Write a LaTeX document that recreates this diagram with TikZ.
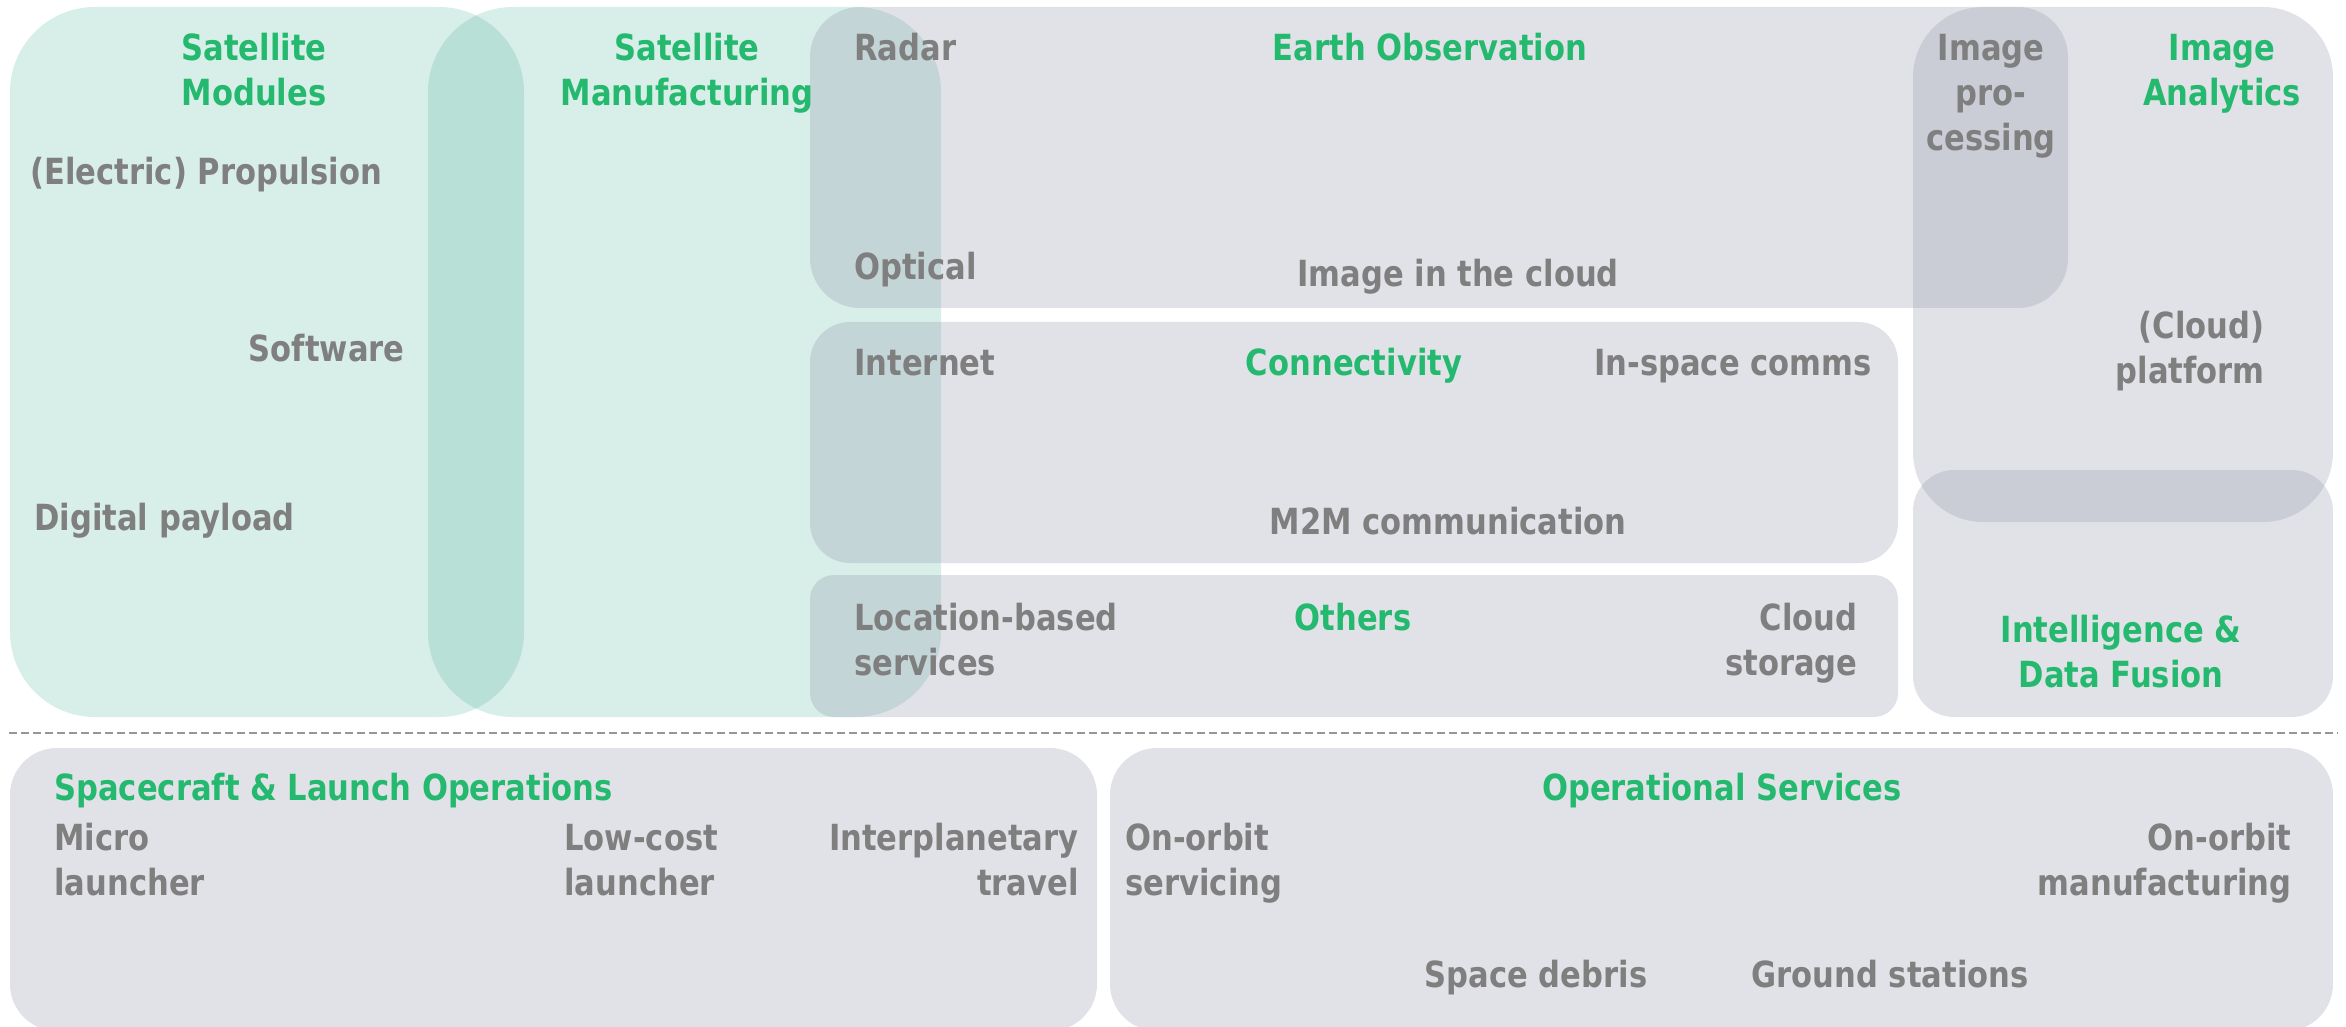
\documentclass[tikz,border=0pt]{standalone}
\usepackage{fontspec}
\setmainfont{DejaVu Sans}[FakeStretch=0.85]
\definecolor{greenbase}{RGB}{60,170,140}
\definecolor{greybase}{RGB}{120,125,150}
\definecolor{txtgrey}{RGB}{127,127,127}
\definecolor{txtgreen}{RGB}{37,185,111}
\definecolor{dashgrey}{RGB}{150,150,150}
\begin{document}
\begin{tikzpicture}[x=0.5pt,y=-0.5pt,
  gbox/.style={fill=greenbase,fill opacity=0.2,draw=none},
  ybox/.style={fill=greybase,fill opacity=0.22,draw=none},
  lbl/.style={inner sep=0pt,font=\bfseries\fontsize{18pt}{22.5pt}\selectfont,text=txtgrey},
  ttl/.style={lbl,text=txtgreen},
  sep/.style={draw=dashgrey,line width=1pt,dash pattern=on 4pt off 2pt}]
\useasboundingbox (0,0) rectangle (2346,1027);
\clip (0,0) rectangle (2346,1027);
% green areas
\fill[gbox,rounded corners=42.5pt] (10,7) rectangle (524,717);
\fill[gbox,rounded corners=42.5pt] (428,7) rectangle (941,717);
% grey areas
\fill[ybox,rounded corners=25pt] (810,7) rectangle (2068,308);
\fill[ybox,rounded corners=20pt] (810,322) rectangle (1898,563);
\fill[ybox,rounded corners=12pt] (810,575) rectangle (1898,717);
\fill[ybox,rounded corners=35pt] (1913,7) rectangle (2333,522);
\fill[ybox,rounded corners=20.5pt] (1913,470) rectangle (2333,717);
\fill[ybox,rounded corners=23.5pt] (10,748) rectangle (1097,1031);
\fill[ybox,rounded corners=23.5pt] (1110,748) rectangle (2333,1031);
% separator
\coordinate (sepL) at (9,733);
\coordinate (sepR) at (2338,733);
\draw[sep] (sepL) -- (sepR);
% texts (base anchor = baseline of last line)
\node[ttl,anchor=base,align=center] (tmod) at (254,106) {Satellite\\Modules};
\node[lbl,anchor=base west] (prop) at (30,185) {(Electric) Propulsion};
\node[lbl,anchor=base east] (soft) at (405,362) {Software};
\node[lbl,anchor=base west] (dig) at (34,530) {Digital payload};
\node[ttl,anchor=base,align=center] (tman) at (687,106) {Satellite\\Manufacturing};
\node[lbl,anchor=base west] (radar) at (854,61) {Radar};
\node[ttl,anchor=base] (teo) at (1430,61) {Earth Observation};
\node[lbl,anchor=base west] (opt) at (854,280) {Optical};
\node[lbl,anchor=base west] (imgc) at (1297,287) {Image in the cloud};
\node[lbl,anchor=base west] (inet) at (854,375) {Internet};
\node[ttl,anchor=base] (tcon) at (1354,375) {Connectivity};
\node[lbl,anchor=base east] (insp) at (1872,375) {In-space comms};
\node[lbl,anchor=base] (m2m) at (1448,534) {M2M communication};
\node[lbl,anchor=base west,align=left] (loc) at (854,675) {Location-based\\services};
\node[ttl,anchor=base] (toth) at (1353,630) {Others};
\node[lbl,anchor=base east,align=right] (cst) at (1858,675) {Cloud\\storage};
\node[lbl,anchor=base,align=center] (iproc) at (1991,151) {Image\\pro-\\cessing};
\node[ttl,anchor=base,align=center] (tia) at (2222,106) {Image\\Analytics};
\node[lbl,anchor=base east,align=right] (cplat) at (2265,383) {(Cloud)\\platform};
\node[ttl,anchor=base,align=center] (tint) at (2121,687) {Intelligence \&\\Data Fusion};
\node[ttl,anchor=base west] (tsl) at (54,800) {Spacecraft \& Launch Operations};
\node[lbl,anchor=base west,align=left] (micro) at (54,895) {Micro\\launcher};
\node[lbl,anchor=base west,align=left] (low) at (564,895) {Low-cost\\launcher};
\node[lbl,anchor=base east,align=right] (inter) at (1079,895) {Interplanetary\\travel};
\node[ttl,anchor=base] (tops) at (1722,800) {Operational Services};
\node[lbl,anchor=base west,align=left] (oos) at (1125,895) {On-orbit\\servicing};
\node[lbl,anchor=base east,align=right] (oom) at (2292,895) {On-orbit\\manufacturing};
\node[lbl,anchor=base] (deb) at (1536,987) {Space debris};
\node[lbl,anchor=base] (gst) at (1890,987) {Ground stations};
\end{tikzpicture}
\end{document}
